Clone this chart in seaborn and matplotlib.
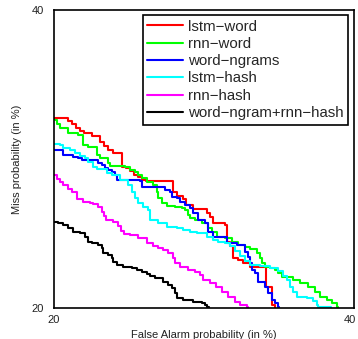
import matplotlib
matplotlib.use("Agg")
import matplotlib.pyplot as plt
import matplotlib.transforms as mtransforms
import seaborn as sns
import pandas as pd

# ---- data (False alarm %, Miss %) ----
series_names = ["lstm−word", "rnn−word", "word−ngrams", "lstm−hash", "rnn−hash", "word−ngram+rnn−hash"]
series_colors = ["#ff0000", "#00ff00", "#0000ff", "#00ffff", "#ff00ff", "#000000"]

lstm_word_fa = [20.00, 20.93, 21.20, 21.47, 21.73, 22.00, 22.53, 23.07, 23.33, 23.60, 23.93, 24.53, 24.80,
                25.07, 25.33, 25.60, 25.87, 26.13, 27.93, 28.20, 28.60, 28.80, 29.27, 30.20, 30.40, 30.60,
                31.40, 31.53, 31.73, 31.93, 32.27, 32.60, 33.07, 34.13, 34.53, 34.73]
lstm_word_miss = [32.75, 32.55, 32.35, 32.08, 31.88, 31.74, 31.54, 31.14, 30.87, 30.60, 30.40, 29.46, 29.40,
                  29.19, 28.93, 28.79, 28.59, 28.52, 27.79, 27.52, 27.32, 26.91, 26.64, 26.38, 26.11, 25.70,
                  25.57, 24.43, 24.16, 23.36, 23.22, 23.02, 22.75, 21.41, 20.20, 20.00]

rnn_word_fa = [20.00, 20.20, 20.40, 20.93, 21.60, 21.93, 22.27, 22.87, 23.07, 23.60, 23.73, 24.73, 25.07,
               25.40, 25.60, 25.87, 26.20, 26.60, 26.87, 26.93, 27.20, 27.53, 28.07, 28.53, 28.73, 28.93,
               29.07, 29.40, 29.87, 30.27, 30.53, 30.87, 31.40, 31.87, 32.27, 32.73, 33.07, 33.53, 33.73,
               33.87, 34.07, 34.40, 34.73, 34.93, 35.20, 35.93, 36.40, 36.93, 37.40, 37.73, 38.20, 38.53,
               38.87, 38.93]
rnn_word_miss = [32.62, 32.35, 32.08, 31.74, 31.61, 30.94, 30.81, 30.27, 30.07, 29.73, 29.53, 29.46, 29.26,
                 29.13, 28.93, 28.72, 28.46, 28.26, 27.79, 27.38, 27.05, 26.85, 26.78, 26.71, 26.58, 26.24,
                 26.04, 25.91, 25.70, 25.37, 25.10, 24.77, 24.70, 24.43, 24.23, 24.09, 23.96, 23.69, 23.36,
                 23.02, 22.75, 22.68, 22.55, 22.35, 22.08, 21.88, 21.68, 21.41, 21.07, 20.74, 20.54, 20.34,
                 20.07, 20.00]

word_ngrams_fa = [20.00, 20.60, 21.27, 21.60, 21.87, 22.93, 23.20, 23.40, 23.60, 23.87, 24.07, 24.20, 25.73,
                  25.87, 27.40, 27.73, 27.87, 28.20, 28.40, 28.73, 29.07, 29.27, 29.60, 30.07, 30.27, 30.60,
                  31.53, 32.20, 32.73, 32.93, 33.07, 33.20, 33.40, 33.60, 34.07, 34.27, 34.53, 34.73, 34.93,
                  35.00]
word_ngrams_miss = [30.60, 30.27, 30.13, 30.07, 29.93, 29.73, 29.60, 29.40, 29.26, 29.13, 28.93, 28.59, 28.52,
                    28.12, 27.92, 27.79, 27.45, 27.38, 27.11, 26.91, 26.71, 26.38, 25.91, 25.70, 25.10, 24.77,
                    24.36, 24.23, 23.76, 23.42, 23.02, 22.55, 22.35, 21.74, 21.41, 21.01, 20.54, 20.34, 20.07,
                    20.00]

lstm_hash_fa = [20.00, 20.40, 20.60, 21.07, 21.40, 21.73, 22.07, 22.27, 22.60, 22.87, 23.53, 23.87, 24.40,
                24.93, 25.20, 25.40, 25.60, 25.93, 26.27, 26.40, 26.93, 27.53, 28.20, 28.60, 29.07, 29.53,
                30.20, 30.60, 30.93, 31.40, 31.73, 32.07, 32.40, 32.73, 33.07, 33.73, 34.40, 34.93, 35.27,
                35.53, 35.73, 35.93, 36.20, 36.87, 37.27, 37.53, 37.60, 38.47]
lstm_hash_miss = [31.01, 30.94, 30.74, 30.60, 30.40, 30.20, 30.07, 29.80, 29.46, 29.33, 29.06, 28.93, 28.59,
                  28.26, 27.79, 27.38, 27.05, 26.78, 26.58, 25.91, 25.70, 25.44, 25.37, 25.23, 25.10, 25.03,
                  24.77, 24.56, 24.43, 24.36, 24.16, 23.83, 23.49, 23.15, 22.89, 22.82, 22.68, 22.48, 22.15,
                  21.88, 21.41, 21.07, 20.74, 20.67, 20.47, 20.20, 20.07, 20.00]

rnn_hash_fa = [20.00, 20.20, 20.40, 20.60, 20.93, 21.20, 21.53, 21.93, 22.40, 22.60, 22.93, 23.20, 23.33,
               23.47, 23.93, 24.27, 24.47, 24.67, 25.07, 25.60, 26.20, 26.60, 26.93, 27.27, 27.60, 27.93,
               28.07, 28.40, 28.93, 29.40, 29.73, 29.93, 30.40, 30.80, 31.20, 31.60, 32.07, 32.40, 32.87,
               32.93]
rnn_hash_miss = [28.93, 28.66, 28.46, 28.26, 27.99, 27.79, 27.32, 27.11, 27.05, 26.98, 26.78, 26.44, 26.17,
                 25.91, 25.77, 25.50, 25.17, 24.97, 24.90, 24.70, 24.36, 24.16, 24.03, 23.89, 23.69, 23.36,
                 23.02, 22.75, 22.55, 22.42, 22.21, 21.88, 21.68, 21.41, 21.07, 20.74, 20.40, 20.20, 20.07,
                 20.00]

combo_fa = [20.00, 20.27, 20.60, 20.93, 21.27, 21.73, 22.07, 22.27, 22.53, 22.93, 23.20, 23.27, 23.60,
            23.87, 23.93, 24.20, 24.60, 25.20, 25.53, 25.87, 26.20, 26.40, 26.73, 27.27, 27.60, 27.87,
            28.07, 28.20, 28.60, 29.27, 29.87, 30.07, 30.20, 30.33]
combo_miss = [25.77, 25.70, 25.57, 25.37, 25.10, 25.03, 24.77, 24.43, 24.36, 24.23, 24.03, 23.69, 23.56,
              23.36, 23.09, 22.89, 22.75, 22.68, 22.55, 22.42, 22.28, 22.15, 22.01, 21.74, 21.54, 21.34,
              21.01, 20.67, 20.54, 20.40, 20.34, 20.20, 20.07, 20.00]

axis_ticks = [20, 40]
axis_tick_labels = ["20", "40"]

series_fa = [lstm_word_fa, rnn_word_fa, word_ngrams_fa, lstm_hash_fa, rnn_hash_fa, combo_fa]
series_miss = [lstm_word_miss, rnn_word_miss, word_ngrams_miss, lstm_hash_miss, rnn_hash_miss, combo_miss]

frames = []
for name, fa, miss in zip(series_names, series_fa, series_miss):
    frames.append(pd.DataFrame({"fa": fa, "miss": miss, "system": name}))
df = pd.concat(frames, ignore_index=True)

sns.set_theme(style="white")
plt.rcParams["font.family"] = ["Liberation Sans", "DejaVu Sans"]

fig = plt.figure(figsize=(3.58, 3.39), dpi=100)
ax = fig.add_axes([54 / 358, 31 / 339, 300 / 358, 298 / 339])

palette = dict(zip(series_names, series_colors))
sns.lineplot(data=df, x="fa", y="miss", hue="system", hue_order=series_names, palette=palette,
             units="system", estimator=None, sort=False, drawstyle="steps-post",
             linewidth=1.5, ax=ax, legend=True)

ax.set_xlim(20, 40)
ax.set_ylim(20, 40)
ax.set_xticks(axis_ticks)
ax.set_xticklabels(axis_tick_labels)
ax.set_yticks(axis_ticks)
ax.set_yticklabels(axis_tick_labels)
ax.tick_params(axis="both", length=0, labelsize=8, colors="#222222")
ax.tick_params(axis="x", pad=5)
ax.tick_params(axis="y", pad=7)
ax.set_xlabel("False Alarm probability (in %)", fontsize=8, color="#222222", labelpad=4)
ax.set_ylabel("Miss probability (in %)", fontsize=8, color="#222222", labelpad=7)
for s in ax.spines.values():
    s.set_color("black")
    s.set_linewidth(1.2)
    s.set_visible(True)

# keep the right-most x tick label inside the figure
last = ax.get_xticklabels()[-1]
last.set_transform(last.get_transform() + mtransforms.ScaledTranslation(-4 / 100, 0, fig.dpi_scale_trans))

handles, labels = ax.get_legend_handles_labels()
hl = [(h, l) for h, l in zip(handles, labels) if l in series_names]
leg = ax.legend([h for h, _ in hl], [l for _, l in hl], loc="upper right",
                bbox_to_anchor=(0.98, 0.983), borderaxespad=0, fontsize=10.8,
                frameon=True, fancybox=False, framealpha=1, edgecolor="black",
                handlelength=2.4, handletextpad=0.3, labelspacing=0.22, borderpad=0.3)
leg.get_frame().set_linewidth(1.2)
for line in leg.get_lines():
    line.set_linewidth(1.5)

fig.savefig("out.png", dpi=100)
